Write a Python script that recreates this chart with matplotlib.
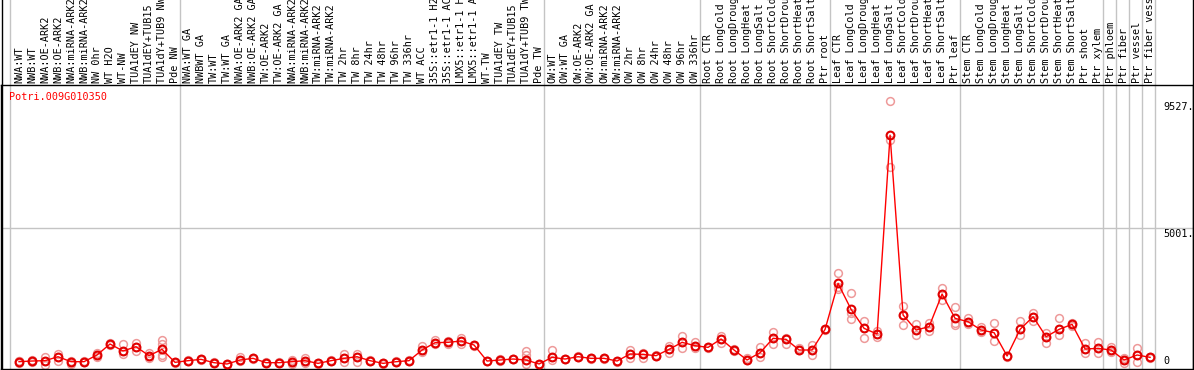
import matplotlib
matplotlib.use("Agg")
import matplotlib.pyplot as plt
from matplotlib.lines import Line2D
from matplotlib import transforms

gene = "Potri.009G010350"

labels = ["NWA:WT", "NWB:WT", "NWA:OE-ARK2", "NWB:OE-ARK2", "NWA:miRNA-ARK2", "NWB:miRNA-ARK2",
          "NW 0hr", "WT H2O", "WT-NW", "TUA1dEY NW", "TUA1dEY+TUB15", "TUA1dY+TUB9 NW", "Pde NW",
          "NWA:WT GA", "NWBWT GA", "TW:WT", "TW:WT GA", "NWA:OE-ARK2 GA", "NWB:OE-ARK2 GA",
          "TW:OE-ARK2", "TW:OE-ARK2 GA", "NWA:miRNA-ARK2", "NWB:miRNA-ARK2", "TW:miRNA-ARK2",
          "TW:miRNA-ARK2", "TW 2hr", "TW 8hr", "TW 24hr", "TW 48hr", "TW 96hr", "TW 336hr",
          "WT ACC", "35S::etr1-1 H2", "35S::etr1-1 AC", "LMX5::etr1-1 H", "LMX5::etr1-1 A",
          "WT-TW", "TUA1dEY TW", "TUA1dEY+TUB15", "TUA1dY+TUB9 TW", "Pde TW",
          "OW:WT", "OW:WT GA", "OW:OE-ARK2", "OW:OE-ARK2 GA", "OW:miRNA-ARK2", "OW:miRNA-ARK2",
          "OW 2hr", "OW 8hr", "OW 24hr", "OW 48hr", "OW 96hr", "OW 336hr",
          "Root CTR", "Root LongCold", "Root LongDroug", "Root LongHeat", "Root LongSalt",
          "Root ShortCold", "Root ShortDrou", "Root ShortHeat", "Root ShortSalt", "Ptr root",
          "Leaf CTR", "Leaf LongCold", "Leaf LongDroug", "Leaf LongHeat", "Leaf LongSalt",
          "Leaf ShortCold", "Leaf ShortDrou", "Leaf ShortHeat", "Leaf ShortSalt", "Ptr leaf",
          "Stem CTR", "Stem LongCold", "Stem LongDroug", "Stem LongHeat", "Stem LongSalt",
          "Stem ShortCold", "Stem ShortDrou", "Stem ShortHeat", "Stem ShortSalt",
          "Ptr shoot", "Ptr xylem", "Ptr phloem", "Ptr fiber", "Ptr vessel", "Ptr fiber vess"]

means = [260, 284, 296, 437, 260, 260, 498, 889, 640, 793, 474, 699, 237,
         296, 343, 225, 178, 320, 379, 225, 225, 260, 296, 201, 296, 379, 437,
         296, 201, 260, 296, 675, 936, 948, 995, 853, 284, 320, 355, 320, 178,
         415, 355, 437, 379, 379, 284, 533, 521, 474, 699, 948, 829,
         770, 1066, 675, 320, 580, 1090, 1055, 675, 675, 1410,
         3045, 2121, 1446, 1244, 8316, 1919, 1386, 1505, 2665, 1801,
         1683, 1386, 1292, 462, 1410, 1860, 1149, 1410, 1588,
         711, 734, 675, 320, 498, 415]

reps = [[230, 290, 300], [250, 300, 320], [142, 296, 437], [296, 437, 521], [180, 260, 300],
        [240, 260, 280], [420, 498, 580], [860, 889, 910], [545, 640, 889], [640, 793, 936],
        [400, 474, 560], [415, 498, 889, 1031], [220, 237, 250], [280, 296, 310], [330, 343, 360],
        [210, 225, 240], [160, 178, 190], [280, 320, 437], [360, 379, 400], [210, 225, 240],
        [210, 225, 240], [180, 260, 320], [200, 296, 400], [190, 201, 210], [280, 296, 310],
        [260, 379, 521], [260, 437, 521], [280, 296, 310], [190, 201, 210], [250, 260, 270],
        [280, 296, 310], [600, 675, 817], [880, 936, 1030], [880, 948, 1000], [900, 995, 1090],
        [830, 853, 870], [270, 284, 300], [300, 320, 340], [340, 355, 370], [170, 320, 498, 640],
        [160, 178, 190], [320, 415, 675], [340, 355, 370], [420, 437, 460], [360, 379, 400],
        [360, 379, 400], [260, 284, 300], [379, 533, 675], [379, 521, 570], [450, 474, 500],
        [570, 699, 830], [758, 948, 1161], [740, 829, 950], [750, 770, 790], [930, 1066, 1160],
        [650, 675, 700], [320, 330, 379], [438, 580, 770], [900, 1090, 1327], [900, 1055, 1120],
        [675, 675, 730], [498, 675, 853], [1390, 1410, 1430], [2831, 2926, 3400],
        [1765, 2000, 2690], [1090, 1446, 1717], [1150, 1244, 1363], [7168, 8138, 9527],
        [1564, 1919, 2239], [1208, 1386, 1583], [1351, 1505, 1647], [2452, 2665, 2867],
        [1564, 1640, 2215], [1600, 1683, 1800], [1300, 1386, 1480], [993, 1292, 1623],
        [440, 462, 480], [1208, 1410, 1718], [1700, 1860, 2002], [935, 1149, 1280],
        [1208, 1410, 1801], [1520, 1588, 1650], [580, 711, 935], [560, 734, 970],
        [620, 675, 780], [201, 320, 400], [249, 498, 734], [400, 415, 430]]

ytick_vals = [0, 5001, 9527]
ytick_text = ["0", "5001.", "9527."]
group_lines = [-0.7, 12.4, 40.4, 52.4, 62.4, 72.4, 83.4, 84.4, 85.4, 86.4, 87.4]

W, H = 1194, 370
fig = plt.figure(figsize=(W / 100, H / 100), dpi=100)
top_px = 85
ax = fig.add_axes([1 / W, 1 / H, 1192 / W, (369 - top_px) / H])
mono = "DejaVu Sans Mono"
fs = 7.3

x = list(range(len(means)))
ax.set_xlim(-1.385, 90.3)
ax.set_ylim(0, 10100)
ax.set_xticks([])
ax.set_yticks([])
for s in ax.spines.values():
    s.set_color("black")
    s.set_linewidth(1)

grey = "#c4c4c4"
ext = (369 - 0) / (369 - top_px)
for gx in group_lines:
    ax.axvline(gx, ymin=0, ymax=ext, color=grey, lw=1, clip_on=False, zorder=1)
ax.axhline(5001, color=grey, lw=1, zorder=1)

# side borders continue through label area
fig.add_artist(Line2D([1.5 / W, 1.5 / W], [0, 1], color="black", lw=1))
fig.add_artist(Line2D([1192.5 / W, 1192.5 / W], [0, 1], color="black", lw=1))

for i, r in enumerate(reps):
    ax.plot([i] * len(r), r, linestyle="none", marker="o", markersize=5.6,
            markerfacecolor="none", markeredgecolor="#ee9a9a", markeredgewidth=1.1, zorder=2)
ax.plot(x, means, color="#ff0000", lw=1, marker="o", markersize=5.6,
        markerfacecolor="none", markeredgecolor="#e00000", markeredgewidth=1.5, zorder=3)

tr = transforms.blended_transform_factory(ax.transData, ax.transAxes)
for i, lab in enumerate(labels):
    ax.text(i, 1 + 2 / 284, lab, rotation=90, ha="center", va="bottom",
            fontsize=fs, family=mono, transform=tr, clip_on=False)

ty = transforms.blended_transform_factory(ax.transAxes, ax.transData)
for v, t in zip(ytick_vals, ytick_text):
    if v == 0:
        ax.text(0.9748, 120, t, ha="left", va="bottom", fontsize=fs, family=mono, transform=ty)
    else:
        ax.text(0.9748, v - 30, t, ha="left", va="top", fontsize=fs, family=mono, transform=ty)

ax.text(8 / 1192, 1 - 12 / 284, gene, color="red", fontsize=fs, family=mono,
        ha="left", va="center", transform=ax.transAxes)

fig.savefig("out.png", dpi=100)
